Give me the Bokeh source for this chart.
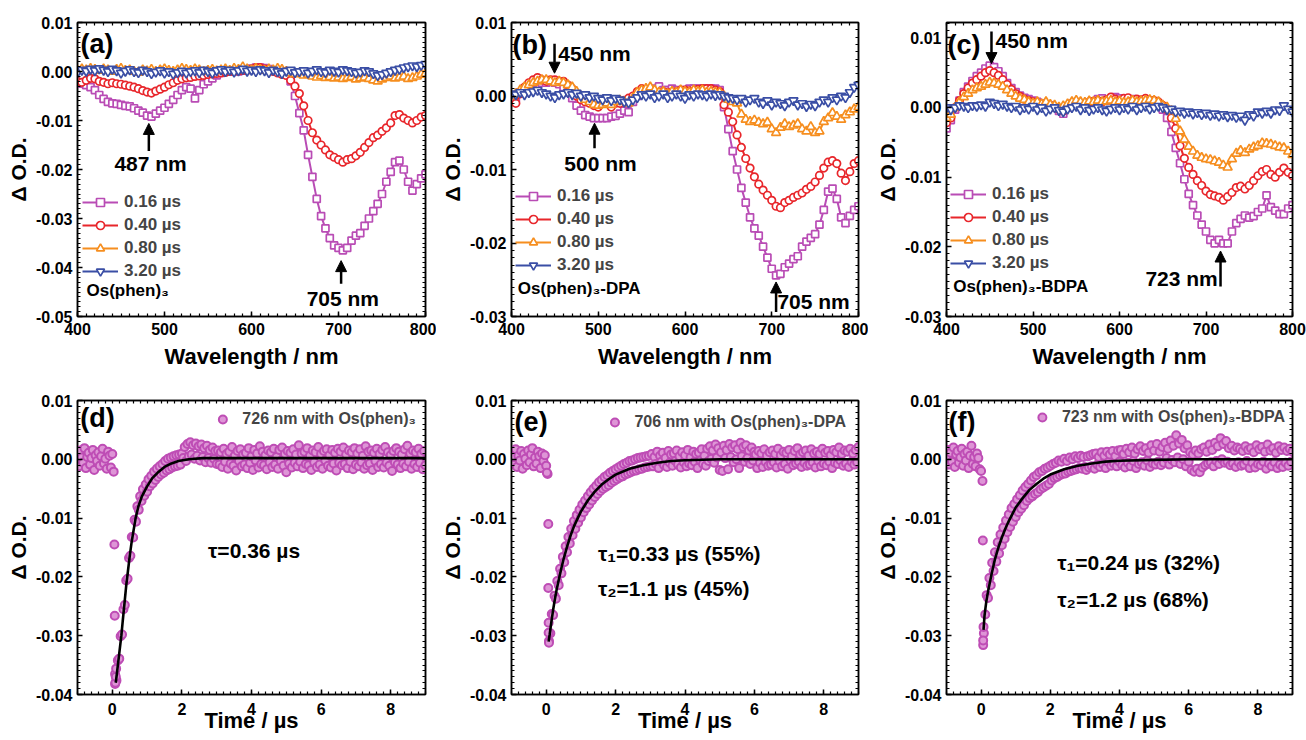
from bokeh.plotting import figure
from bokeh.layouts import column, row
from bokeh.models import (Range1d, LinearAxis, SingleIntervalTicker, FixedTicker, PrintfTickFormatter,
                          Legend, LegendItem, Label, Arrow, NormalHead)
from bokeh.embed import file_html
from bokeh.resources import INLINE

FONT = "Liberation Sans"

# ---------------- data (ΔO.D. in units of 0.001) ----------------
# transient spectra, wavelength 400..800 nm every 5 nm
delay_labels = ["0.16 µs", "0.40 µs", "0.80 µs", "3.20 µs"]

a_016 = [-2.4, -2.5, -2.8, -3.2, -3.8, -4.8, -5.6, -6.2, -6.5, -6.6, -6.8, -7.0, -7.1, -7.5, -8.0, -8.4, -9.0, -9.2, -8.6, -8.0,
         -7.4, -6.6, -5.8, -4.8, -3.8, -3.2, -3.5, -5.5, -3.8, -2.6, -2.0, -1.4, -0.8, -0.3, 0.0, 0.0, 0.2, 0.0, 0.2, 0.4,
         0.6, 0.8, 0.8, 0.7, 0.5, 0.2, 0.0, 0.0,
         -0.2, -2.0, -5.0, -8.5, -12.0, -17.0, -21.5, -26.0, -29.5, -32.0, -34.0, -35.5, -36.0, -36.5, -36.0, -34.5, -33.5,
         -33.0, -31.5, -30.0, -28.5, -27.0, -25.0, -22.5, -20.5, -18.5, -18.2, -20.0, -22.5, -24.3, -23.0, -21.8, -21.0]
a_040 = [-2.0, -2.2, -1.8, -1.4, -1.5, -2.0, -2.2, -2.5, -2.3, -2.5, -2.6, -2.8, -3.0, -3.2, -3.5, -3.9, -4.2, -4.4, -4.0, -3.6,
         -3.2, -2.7, -2.3, -1.8, -1.5, -1.3, -1.2, -1.0, -0.9, -0.8, -0.6, -0.5, -0.4, -0.3, -0.2, 0.0, 0.0, 0.1, 0.2, 0.2,
         0.5, 0.8, 0.8, 0.5, 0.3, 0.0, -0.3, -0.6,
         -0.8, -1.8, -3.0, -4.5, -7.0, -10.0, -12.5, -14.0, -15.0, -16.0, -17.0, -17.5, -18.0, -18.5, -18.0, -17.8, -17.2,
         -16.5, -15.5, -14.5, -13.5, -13.0, -12.2, -11.5, -10.5, -9.0, -8.8, -9.5, -10.0, -10.5, -10.0, -9.3, -9.0]
a_080 = [0.2, 0.5, 0.3, 0.6, 0.4, 0.2, 0.5, 0.3, 0.0, 0.4, 0.6, 0.2, 0.3, 0.0, -0.2, 0.3, 0.1, 0.4, 0.0, 0.3,
         0.5, 0.2, 0.0, 0.3, 0.6, 0.4, 0.2, 0.5, 0.3, 0.0, 0.2, 0.4, 0.1, 0.3, 0.5, 0.2, 0.6, 0.4, 0.9, 0.5,
         0.3, 0.6, 0.4, 0.2, 0.5, 0.3, 0.6, 0.4,
         0.0, -0.3, -0.5, -0.4, -0.8, -0.6, -1.0, -1.2, -0.9, -1.3, -1.1, -1.4, -1.2, -1.5, -1.3, -1.1, -1.6, -1.4, -1.2,
         -1.5, -1.8, -2.0, -1.6, -1.3, -1.0, -1.4, -1.2, -1.0, -1.5, -1.3, -1.0, -0.6, -0.4]
a_320 = [-0.2, 0.3, 0.1, 0.5, 0.2, 0.6, 0.3, 0.0, 0.5, 0.2, -0.3, 0.1, 0.4, 0.0, -0.2, 0.3, 0.0, -0.4, -0.1, 0.2,
         -0.3, 0.0, -0.5, -0.2, 0.1, -0.3, 0.0, 0.2, -0.2, 0.3, 0.0, -0.3, 0.2, 0.4, 0.0, 0.3, -0.1, 0.2, 0.5, 0.1,
         0.3, 0.0, 0.4, 0.2, -0.2, 0.3, 0.0, -0.4,
         0.1, 0.3, -0.2, 0.0, 0.2, -0.3, 0.1, 0.4, 0.0, -0.2, 0.3, 0.1, -0.1, 0.4, 0.2, 0.0, -0.3, -0.1, 0.2, 0.0,
         -0.4, -0.8, -0.6, -0.3, 0.0, 0.3, 0.5, 0.8, 1.0, 1.2, 1.0, 1.3, 1.5]

b_016 = [-0.5, -0.3, 0.5, 1.0, 1.5, 1.8, 2.0, 1.8, 1.8, 2.0, 1.8, 1.6, 1.2, 0.5, -0.3, -1.3, -2.0, -2.6, -2.8, -3.0,
         -3.0, -3.0, -3.0, -2.8, -2.7, -2.4, -2.0, -2.2, -0.8, 0.0, 0.5, 0.6, 0.8, 1.0, 1.3, 0.8, 0.8, 1.0, 0.8, 0.7,
         0.8, 1.0, 1.0, 1.0, 1.0, 1.0, 1.0, 1.0,
         0.8, -1.5, -4.5, -7.5, -10.0, -12.5, -14.5, -16.5, -18.0, -19.0, -20.5, -22.0, -23.5, -24.4, -24.2, -23.3, -22.8,
         -22.2, -21.8, -20.5, -19.8, -19.3, -18.8, -17.5, -15.5, -13.0, -12.6, -14.0, -16.5, -17.3, -16.3, -15.5, -15.0]
b_040 = [-0.8, -1.0, 0.3, 1.2, 1.8, 2.2, 2.5, 2.2, 2.0, 2.2, 2.2, 2.0, 2.0, 1.5, 1.0, 0.0, -0.5, -0.8, -1.0, -1.3,
         -1.5, -1.0, -0.9, -1.5, -1.0, -1.0, -0.6, -0.3, 0.0, 0.6, 1.0, 0.8, 0.6, 0.5, 0.4, 0.6, 0.5, 0.3, 0.6, 0.8,
         0.8, 0.7, 0.6, 0.9, 1.0, 1.0, 1.0, 0.8,
         0.6, -1.2, -2.2, -3.5, -5.3, -7.0, -8.5, -9.8, -11.0, -12.0, -12.8, -13.5, -14.2, -15.0, -15.2, -14.5, -14.2,
         -13.8, -13.5, -13.2, -12.7, -12.3, -11.7, -10.8, -9.8, -9.0, -8.8, -9.2, -10.5, -11.5, -10.3, -9.2, -8.8]
b_080 = [0.0, 0.3, 0.8, 1.2, 1.5, 1.8, 2.0, 2.2, 2.2, 2.0, 1.8, 2.0, 1.8, 1.5, 1.2, 0.6, 0.0, -0.5, -0.8, -1.2,
         -1.3, -1.2, -1.0, -1.2, -0.8, -0.6, -0.8, -1.0, -0.3, 0.5, 0.8, 1.0, 1.2, 0.8, 0.5, 0.6, 0.3, 0.6, 0.5, 0.8,
         0.6, 0.5, 0.8, 0.6, 0.8, 0.5, 0.6, 0.5,
         0.5, 0.0, -0.5, -0.8, -1.0, -2.5, -3.2, -3.5, -3.3, -3.6, -3.8, -3.6, -4.5, -5.0, -4.3, -3.8, -4.2, -4.0, -3.8,
         -4.5, -4.8, -4.2, -5.0, -4.8, -3.5, -3.0, -2.3, -2.8, -3.2, -2.6, -2.2, -1.8, -1.5]
b_320 = [0.3, 0.2, 0.5, 0.2, 0.5, 0.6, 0.8, 0.5, 0.3, 0.0, -0.2, 0.2, 0.3, 0.5, 0.2, 0.4, 0.0, 0.2, -0.2, 0.0,
         -0.3, -0.5, -0.2, -0.6, -0.3, -0.5, -0.8, -0.9, -0.5, -0.2, 0.2, 0.0, 0.3, -0.2, 0.0, 0.3, -0.2, 0.0, 0.3, 0.0,
         -0.3, 0.2, 0.0, 0.3, 0.2, 0.0, 0.3, 0.1,
         0.2, 0.0, -0.2, -0.3, -0.5, -0.3, -0.8, -0.5, -0.3, -0.8, -1.0, -0.6, -1.2, -0.8, -1.0, -1.3, -0.8, -0.6, -1.2,
         -1.0, -1.4, -1.1, -1.3, -0.8, -0.5, -0.8, -0.2, -0.5, 0.0, -0.2, 0.5, 1.2, 1.5]

c_016 = [-3.0, -1.8, -0.3, 1.0, 2.2, 3.0, 3.8, 4.5, 5.0, 5.6, 6.0, 5.8, 5.2, 4.5, 3.5, 2.8, 2.2, 1.7, 1.4, 1.2,
         1.0, 0.8, 0.6, 0.4, 0.3, 0.0, -0.5, -0.9, 0.0, 0.5, 0.6, 0.5, 0.4, 0.6, 0.8, 1.2, 1.3, 1.0, 1.1, 1.5,
         1.3, 0.9, 1.1, 1.2, 1.0, 0.9, 1.1, 1.0,
         0.8, 0.5, -0.3, -1.5, -3.5, -5.8, -8.0, -10.3, -12.4, -14.0, -15.5, -16.8, -17.8, -19.0, -19.5, -19.0, -19.5,
         -19.5, -17.8, -16.6, -16.0, -15.5, -15.8, -15.6, -15.0, -14.5, -12.6, -14.3, -14.8, -15.3, -15.3, -14.5, -14.0]
c_040 = [-2.2, -1.5, 0.0, 1.0, 2.0, 2.8, 3.5, 4.0, 4.5, 5.0, 5.3, 5.0, 4.6, 4.0, 3.3, 2.6, 2.0, 1.6, 1.2, 1.0,
         0.8, 0.6, 0.5, 0.3, 0.2, 0.0, -0.3, -0.5, 0.2, 0.6, 0.8, 0.5, 0.6, 0.8, 0.9, 1.0, 0.8, 1.1, 1.5, 1.2,
         1.0, 1.3, 1.4, 1.0, 1.2, 1.1, 1.3, 1.0,
         1.0, 0.8, 0.3, -0.3, -1.5, -3.0, -5.5, -7.3, -8.6, -9.6, -10.5, -11.2, -12.0, -12.5, -12.7, -12.9, -13.3,
         -12.8, -12.2, -11.5, -11.3, -11.7, -11.2, -10.5, -9.8, -9.2, -8.9, -9.6, -10.0, -9.3, -8.7, -9.3, -9.8]
c_080 = [-1.5, -1.0, 0.0, 0.8, 1.5, 2.0, 2.5, 2.8, 3.0, 3.3, 3.6, 3.5, 3.3, 3.0, 2.5, 2.0, 1.6, 1.3, 1.1, 0.8,
         0.6, 0.8, 0.5, 0.8, 0.4, 0.3, 0.0, 0.2, 0.5, 0.8, 1.0, 0.8, 0.7, 0.9, 0.8, 1.0, 0.8, 0.9, 1.0, 0.8,
         0.9, 0.7, 0.8, 1.0, 0.8, 0.9, 1.0, 1.1,
         1.0, 0.8, 0.3, 0.0, -0.5, -1.6, -3.4, -4.6, -5.6, -6.3, -6.9, -7.2, -7.4, -7.5, -7.7, -7.9, -8.3,
         -8.6, -7.4, -6.6, -6.2, -6.5, -6.0, -5.7, -5.5, -5.1, -5.2, -5.3, -5.5, -5.7, -5.8, -6.3, -6.8]
c_320 = [0.0, -0.3, 0.0, 0.3, 0.2, 0.0, 0.3, 0.2, 0.4, 0.2, 0.8, 0.6, 0.3, 0.5, 0.2, 0.0, 0.2, -0.3, 0.0, -0.2,
         0.2, -0.3, 0.0, -0.5, -0.2, 0.0, -0.4, -0.6, -0.2, 0.0, 0.2, -0.3, 0.0, -0.4, -0.2, 0.0, -0.3, -0.5, -0.2, 0.0,
         -0.3, 0.0, -0.2, 0.2, -0.3, 0.0, 0.2, -0.2,
         0.0, 0.2, 0.0, -0.3, -0.2, -0.6, -0.5, -0.8, -0.6, -0.9, -0.7, -1.0, -0.8, -1.1, -0.9, -1.2, -1.0,
         -1.3, -1.1, -1.4, -1.2, -1.8, -1.0, -1.2, -0.6, -0.8, -0.5, -0.8, -0.3, -0.4, 0.3, -0.2, -0.6]

# kinetic traces, time -1.00 .. 9.00 us every 0.04 us
d_trace = ([0.8, -1.2, 1.5, 0.3, -0.6, 1.9, -1.5, 0.4, 1.1, -0.9, 0.2, 1.6, -1.8, 0.7, -0.3, 1.2, -1.1, 0.5, 1.8, -0.7,
            0.1, -1.6, 1.3, 0.6, -1.4, 0.9, -2.1, -38.2]
           + [-37.6, -34.2, -33.9, -30.1, -29.8, -25.5, -24.8, -20.6, -20.3, -16.8, -16.4, -13.2, -13.3, -10.3, -10.6,
              -8.0, -8.6, -6.3, -7.1, -5.1, -6.2, -4.3, -5.5, -3.4, -4.6, -2.8, -4.1, -2.1, -3.5, -1.6, -3.0, -1.2,
              -2.6, -0.8, -2.3, -0.3, -1.9, 0.1, -1.7, 0.3, -1.4, 0.5, -1.2, 0.7, -1.1, 0.8, -0.9, 1.0]
           + [0.2, 2.1, -0.3, 2.6, 0.5, 2.9, 0.8, 2.4, 0.1, 2.7, 0.6, 2.2, -0.2, 2.5, 0.4, 1.9, -0.5, 2.3, 0.2, 1.6,
              -0.6, 2.0, 0.1, 1.4, -0.8]
           + [1.5, -0.9, 1.2, -1.3, 1.8, -0.4, 0.9, -1.6, 1.3, -0.7, 2.1, -1.1, 0.6, -1.9, 1.4, -0.3, 1.7, -1.2, 0.8, -0.9,
              1.1, -1.5, 1.9, -0.6, 0.5, -1.8, 1.6, -0.2, 1.0, -1.4, 2.2, -0.8, 1.3, -1.0, 0.7, -1.7, 1.5, -0.5, 1.2, -1.3,
              1.8, -0.9, 0.4, -1.6, 1.6, -0.3, 2.0, -1.1, 0.9, -2.2, 1.4, -0.7, 1.1, -1.4, 1.7, -0.6, 0.8, -1.2, 2.4, -0.4,
              1.0, -1.5, 1.3, -0.8, 1.9, -1.0, 0.6, -1.8, 1.5, -0.5, 1.2, -1.3, 2.1, -0.9, 0.9, -1.6, 1.4, -0.2, 1.7, -1.1,
              0.7, -1.4, 1.6, -0.7, 1.1, -1.9, 1.8, -0.6, 1.3, -1.0, 2.0, -0.8, 0.8, -1.5, 1.5, -0.4, 1.2, -1.7, 1.9, -0.9,
              1.0, -1.2, 1.7, -0.5, 0.6, -1.6, 2.2, -1.0, 1.3, -0.7, 1.5, -1.8, 1.1, -0.3, 1.8, -1.3, 0.9, -0.8, 1.6, -1.4,
              2.1, -0.6, 1.2, -1.1, 0.7, -2.0, 1.4, -0.5, 1.9, -0.9, 1.3, -1.5, 0.8, -0.7, 1.7, -1.2, 2.3, -0.4, 1.0, -1.6,
              1.5, -0.8, 1.2, -1.3, 1.8, -0.6, 0.9, -1.7, 1.4, -1.0])
d_onset_t = [0.06, 0.07, 0.08, 0.09, 0.10, 0.11]
d_onset_v = [-14.5, -26.6, -36.5, -38.0, -37.0, -35.6]
d_fit_t = [0.10, 0.15, 0.20, 0.26, 0.30, 0.35, 0.40, 0.45, 0.50, 0.55, 0.60, 0.67, 0.75, 0.85, 1.00, 1.15, 1.30,
           1.50, 1.70, 1.90, 2.20, 2.60, 9.00]
d_fit_v = [-38.0, -35.5, -33.0, -30.0, -27.5, -24.5, -21.5, -19.0, -16.5, -14.3, -12.5, -10.0, -8.0, -6.3, -4.6,
           -3.2, -2.3, -1.3, -0.7, -0.3, 0.0, 0.2, 0.2]

e_trace = ([1.2, -0.8, 0.4, 1.7, -1.3, 0.6, -0.2, 1.4, -1.6, 0.9, 0.1, -1.0, 1.5, -0.5, 0.8, 1.9, -1.2, 0.3, -0.7, 1.3,
            0.5, -1.5, 1.0, -0.3, 0.7, -1.1, -2.5, -30.9]
           + [-29.6, -26.3, -26.5, -23.2, -23.7, -20.7, -21.4, -18.6, -19.4, -16.6, -17.5, -14.8, -15.8, -13.2, -14.3,
              -11.8, -12.9, -10.5, -11.8, -9.5, -10.8, -8.6, -9.9, -7.7, -9.0, -7.0, -8.3, -6.3, -7.7, -5.6, -7.0, -5.0,
              -6.4, -4.5, -5.9, -3.9, -5.4, -3.5, -5.0, -3.0, -4.7, -2.7, -4.4, -2.3, -4.0, -2.0, -3.7, -1.7]
           + [-3.4, -1.4, -3.1, -1.1, -2.9, -0.8, -2.6, -0.6, -2.4, -0.3, -2.2, -0.2, -2.0, 0.0, -1.9, 0.2, -1.7, 0.3,
              -1.6, 0.4, -1.4, 0.5, -1.3, 0.6, -1.2]
           + [0.9, -1.2, 0.4, -0.8, 1.3, -1.5, 0.6, -0.4, 1.1, -1.0, 0.2, -1.3, 1.4, -0.6, 0.8, -1.1, 1.0, -0.3, 1.5, -0.9,
              0.5, -1.4, 1.2, -0.5, 0.7, -1.2, 1.6, -0.7, 0.3, -1.0, 1.3, -0.4, 0.9, -1.5, 1.1, -0.2, 1.7, -0.8, 0.6, -1.1]
           + [1.8, -0.3, 2.2, 0.1, 1.5, -0.6, 2.5, 0.3, 1.9, -1.8, 1.2, -2.0, 2.3, 0.2, 1.6, -1.7, 2.6, 0.4, 2.0, -0.5,
              2.4, 0.0, 1.7, -1.5, 2.8, 0.5, 2.1, -0.4, 2.4, 0.2, 1.5, -0.8, 2.0, -0.2, 1.3]
           + [0.8, -1.5, 1.4, -0.6, 1.0, -1.3, 1.7, -0.4, 0.6, -1.1, 1.2, -0.9, 1.5, -0.5, 0.9, -1.4, 1.8, -0.3, 0.7, -1.2,
              1.3, -0.8, 1.1, -1.6, 1.6, -0.2, 0.5, -1.0, 1.4, -0.7, 1.9, -0.4, 0.8, -1.3, 1.2, -0.6, 1.5, -1.1, 0.6, -0.9,
              1.7, -0.5, 1.0, -1.4, 1.3, -0.3, 0.9, -1.2, 1.8, -0.7, 1.1, -1.0, 1.4, -0.4, 0.7, -1.5, 1.6, -0.6, 1.2, -0.8,
              2.0, -0.2, 0.9, -1.1, 1.5, -0.7, 1.3, -1.3, 1.8, -0.4, 1.0, -0.9, 1.6, -0.5, 2.1])
e_onset_t = [0.02, 0.06, 0.06, 0.07, 0.07, 0.08]
e_onset_v = [-2.3, -11.0, -21.9, -27.8, -29.5, -31.2]
e_fit_t = [0.07, 0.10, 0.15, 0.20, 0.25, 0.30, 0.38, 0.45, 0.50, 0.60, 0.70, 0.80, 0.91, 1.00, 1.20, 1.40, 1.60,
           1.80, 2.00, 2.40, 2.80, 3.20, 3.60, 4.00, 5.00, 9.00]
e_fit_v = [-31.0, -29.8, -27.6, -25.6, -23.8, -22.2, -20.0, -18.2, -17.0, -14.9, -13.0, -11.4, -10.0, -8.9, -7.0,
           -5.5, -4.3, -3.4, -2.6, -1.6, -1.0, -0.6, -0.3, -0.15, 0.0, 0.0]

f_trace = ([0.5, 1.6, -0.9, 1.1, -0.4, 2.0, -1.3, 0.8, 1.4, -0.6, 0.3, 1.8, -1.1, 0.9, -0.2, 1.3, -1.5, 0.6, 2.3, -0.8,
            0.4, -1.2, 1.0, 0.2, -1.7, -2.0, -3.7, -29.6]
           + [-26.4, -23.1, -23.6, -20.2, -21.4, -17.6, -19.0, -15.8, -17.4, -14.1, -16.0, -12.8, -14.6, -11.6, -13.5,
              -10.4, -12.4, -9.4, -11.5, -8.3, -10.6, -7.6, -9.8, -6.8, -9.0, -6.1, -8.4, -5.3, -7.8, -4.7, -7.1, -4.2,
              -6.6, -3.6, -6.3, -3.0, -5.9, -2.7, -5.6, -2.2, -5.1, -2.0, -4.8, -1.6, -4.5, -1.4, -4.2, -1.1]
           + [-3.6, -0.8, -3.2, -0.6, -3.0, -0.2, -2.7, -0.4, -2.5, 0.1, -2.4, -0.3, -2.1, 0.3, -2.0, 0.0, -1.8, 0.5,
              -1.7, 0.2, -1.5, 0.6, -1.6, 0.4, -1.3]
           + [-1.8, 0.5, -1.4, 0.7, -1.2, 0.9, -1.6, 1.0, -0.9, 0.4, -1.3, 1.2, -0.8, 0.6, -1.5, 1.3, -0.5, 0.8, -1.1, 1.4,
              -0.7, 0.5, -1.2, 1.5, -0.4]
           + [1.6, -1.0, 0.9, -1.4, 1.8, -0.6, 1.2, -1.2, 2.0, -0.3, 1.0, -1.5, 1.7, -0.8, 2.2, -0.5, 1.4, -1.1, 1.9, -0.2,
              1.1, -1.3, 2.4, -0.7, 1.5, -0.9, 2.6, -0.4, 1.3, -1.0, 2.1, -0.6, 2.8, 0.2, 1.8, -0.9, 3.2, -0.1, 2.3, -0.5,
              4.1, 0.3, 2.7, -0.8, 3.3, 0.0, 1.9, -1.2, 2.4, -0.4]
           + [1.2, -1.8, 0.8, -2.1, 1.5, -1.6, 1.0, -2.2, 1.7, -1.4, 2.0, -1.0, 1.3, -0.7, 2.5, -0.5, 1.6, -1.2, 2.8, -0.3,
              2.2, -0.8, 3.6, 0.0, 2.6, -0.6, 3.1, -0.4, 1.9, -1.0, 2.3, -0.7, 1.5, -1.3, 2.0, -0.5, 1.8, -1.1, 1.4, -0.9,
              2.2, -0.3, 1.6, -1.5, 1.9, -0.6, 1.2, -1.4, 2.4, -0.8, 1.7, -1.0, 2.1, -0.4, 1.3, -1.6, 2.5, -0.7, 1.5, -1.2,
              1.9, -0.5, 1.1, -1.5, 2.2, -0.9, 1.6, -1.3, 2.0, -0.6, 1.4, -1.1, 1.8, -0.4, 1.3])
f_onset_t = [0.05, 0.06, 0.06, 0.07]
f_onset_v = [-13.8, -31.6, -30.8, -28.5]
f_fit_t = [0.07, 0.10, 0.15, 0.20, 0.30, 0.40, 0.50, 0.60, 0.70, 0.80, 1.00, 1.20, 1.40, 1.60, 1.80, 2.00, 2.40,
           2.80, 3.20, 3.60, 4.00, 5.00, 6.00, 9.00]
f_fit_v = [-29.0, -26.5, -24.2, -22.5, -19.6, -17.0, -15.0, -13.3, -11.8, -10.5, -8.2, -6.6, -5.2, -4.2, -3.3, -2.6,
           -1.7, -1.1, -0.7, -0.4, -0.25, -0.1, 0.0, 0.0]

# ---------------- styling ----------------
SPEC_COLORS = ["#B94CB5", "#E8262B", "#F68E1F", "#3A4EA5"]
SPEC_MARKERS = ["square", "circle", "triangle", "inverted_triangle"]
SPEC_SIZES = [7, 7.5, 9, 9]
K_LINE = "#BE4DB5"
K_FILL = "#DE95D6"


def style_axis(ax, title_size):
    ax.axis_line_color = "black"
    ax.axis_line_width = 1.5
    ax.major_tick_line_color = "black"
    ax.major_tick_line_width = 1.5
    ax.minor_tick_line_color = "black"
    ax.minor_tick_line_width = 1.2
    ax.major_tick_in = 5
    ax.major_tick_out = 0
    ax.minor_tick_in = 3
    ax.minor_tick_out = 0
    ax.major_label_text_font = FONT
    ax.major_label_text_font_style = "bold"
    ax.major_label_text_color = "black"
    ax.major_label_text_font_size = "16px"
    ax.major_label_standoff = 5
    ax.axis_label_text_font = FONT
    ax.axis_label_text_font_style = "bold"
    ax.axis_label_text_font_size = title_size
    ax.axis_label_text_color = "black"


def mirror_axis(positions):
    ax = LinearAxis(ticker=FixedTicker(ticks=[], minor_ticks=positions))
    ax.axis_line_color = "black"
    ax.axis_line_width = 1.5
    ax.minor_tick_line_color = "black"
    ax.minor_tick_line_width = 1.2
    ax.minor_tick_in = 3
    ax.minor_tick_out = 0
    ax.major_tick_in = 0
    ax.major_tick_out = 0
    ax.major_label_standoff = 0
    return ax


def make_fig(w, h, bl, br, bt, bb, xr, yr, xint, xlabel, xlab_standoff, xtitle_standoff):
    p = figure(width=w, height=h, x_range=Range1d(*xr), y_range=Range1d(*yr),
               output_backend="svg", toolbar_location=None,
               min_border_left=bl, min_border_right=br, min_border_top=bt, min_border_bottom=bb,
               x_axis_label=xlabel, y_axis_label="Δ O.D.")
    p.xgrid.visible = False
    p.ygrid.visible = False
    p.outline_line_color = "black"
    p.outline_line_width = 1.5
    p.background_fill_color = "white"
    p.border_fill_color = "white"
    xa = p.xaxis[0]
    ya = p.yaxis[0]
    xa.ticker = SingleIntervalTicker(interval=xint, num_minor_ticks=10)
    ya.ticker = SingleIntervalTicker(interval=0.01, num_minor_ticks=10)
    ya.formatter = PrintfTickFormatter(format="%.2f")
    style_axis(xa, "22px")
    style_axis(ya, "21px")
    xa.major_label_standoff = xlab_standoff
    xa.axis_label_standoff = xtitle_standoff
    ya.axis_label_standoff = 3
    xstep = xint / 10
    nx = int(round((xr[1] - xr[0]) / xstep))
    xpos = [round(xr[0] + xstep * i, 4) for i in range(nx + 1)]
    y0 = int(round(yr[0] * 1000))
    y1 = int(yr[1] * 1000)
    ypos = [k / 1000 for k in range(y0, y1 + 1)]
    p.add_layout(mirror_axis(xpos), "above")
    p.add_layout(mirror_axis(ypos), "right")
    return p


def text(p, x, y, s, size, align="left"):
    p.add_layout(Label(x=x, y=y, text=s, text_font=FONT, text_font_style="bold", text_font_size=size,
                       text_align=align, text_baseline="middle", text_color="black"))


def arrow(p, x, y0, y1):
    p.add_layout(Arrow(end=NormalHead(size=11, fill_color="black", line_color="black", line_width=1),
                       x_start=x, y_start=y0, x_end=x, y_end=y1, line_width=2.5, line_color="black"))


def spectra(p, series, legend_loc):
    items = []
    for vals, lab, col, mk, sz in zip(series, delay_labels, SPEC_COLORS, SPEC_MARKERS, SPEC_SIZES):
        xs = [400 + 5 * i for i in range(len(vals))]
        ys = [v / 1000 for v in vals]
        lr = p.line(xs, ys, line_color=col, line_width=2)
        sr = p.scatter(xs, ys, marker=mk, size=sz, line_color=col, fill_color="white", line_width=1.7)
        items.append(LegendItem(label=lab, renderers=[lr, sr]))
    leg = Legend(items=items, location=legend_loc, padding=0, margin=0, spacing=3,
                 glyph_width=36, glyph_height=20, label_height=20, label_standoff=6,
                 label_text_font=FONT, label_text_font_style="bold", label_text_font_size="17px",
                 border_line_color=None, background_fill_alpha=0)
    p.add_layout(leg)


def kinetics(p, trace, ot, ov, ft, fv, lab, marg):
    ts = [-1 + 0.04 * i for i in range(len(trace))] + ot
    ys = [v / 1000 for v in trace + ov]
    sr = p.scatter(ts, ys, marker="circle", size=8, line_color=K_LINE, fill_color=K_FILL, line_width=2)
    p.line(ft, [v / 1000 for v in fv], line_color="black", line_width=2.6)
    leg = Legend(items=[LegendItem(label=lab, renderers=[sr])], location="top_right", padding=0, margin=marg,
                 glyph_width=20, glyph_height=20, label_height=20, label_standoff=10,
                 label_text_font=FONT, label_text_font_style="bold", label_text_font_size="16px",
                 border_line_color=None, background_fill_alpha=0)
    p.add_layout(leg)


# ---------------- top row: spectra ----------------
TOP_H, BOT_H = 374, 366
pa = make_fig(436, TOP_H, 77, 11, 22, 58, (400, 800), (-0.05, 0.01), 100, "Wavelength / nm", 6, 6)
spectra(pa, [a_016, a_040, a_080, a_320], (5, 35))
text(pa, 403.4, 0.0057, "(a)", "27px")
text(pa, 410.3, -0.0447, "Os(phen)₃", "17px")
arrow(pa, 482, -0.0162, -0.0106)
text(pa, 484, -0.0188, "487 nm", "21px", "center")
arrow(pa, 703, -0.0433, -0.0386)
text(pa, 705, -0.0464, "705 nm", "21px", "center")

pb = make_fig(432, TOP_H, 75, 10, 22, 58, (400, 800), (-0.03, 0.01), 100, "Wavelength / nm", 6, 6)
spectra(pb, [b_016, b_040, b_080, b_320], (4, 41))
text(pb, 401.2, 0.0069, "(b)", "27px")
text(pb, 407.3, -0.0262, "Os(phen)₃-DPA", "17px")
arrow(pb, 449.6, 0.0071, 0.0031)
text(pb, 454, 0.0058, "450 nm", "21px")
arrow(pb, 495.7, -0.0071, -0.0037)
text(pb, 502.6, -0.0092, "500 nm", "21px", "center")
arrow(pb, 705, -0.0294, -0.0253)
text(pb, 706.5, -0.0280, "705 nm", "21px")

pc = make_fig(438, TOP_H, 78, 14, 22, 58, (400, 800), (-0.03, 0.0122), 100, "Wavelength / nm", 6, 6)
spectra(pc, [c_016, c_040, c_080, c_320], (4, 43))
text(pc, 401.2, 0.0089, "(c)", "27px")
text(pc, 407.7, -0.0257, "Os(phen)₃-BDPA", "17px")
arrow(pc, 452, 0.0109, 0.0063)
text(pc, 456.6, 0.0096, "450 nm", "21px")
arrow(pc, 716.8, -0.0257, -0.0206)
text(pc, 713.6, -0.0245, "723 nm", "21px", "right")

# ---------------- bottom row: kinetics ----------------
pd = make_fig(436, BOT_H, 77, 11, 26, 46, (-1, 9), (-0.04, 0.01), 2, "Time / µs", 8, -10)
kinetics(pd, d_trace, d_onset_t, d_onset_v, d_fit_t, d_fit_v, "726 nm with Os(phen)₃", 9)
text(pd, -0.92, 0.0071, "(d)", "27px")
text(pd, 2.75, -0.0155, "τ=0.36 µs", "21px")

pe = make_fig(432, BOT_H, 75, 10, 26, 46, (-1, 9), (-0.04, 0.01), 2, "Time / µs", 8, -10)
kinetics(pe, e_trace, e_onset_t, e_onset_v, e_fit_t, e_fit_v, "706 nm with Os(phen)₃-DPA", 12)
text(pe, -0.91, 0.0064, "(e)", "27px")
text(pe, 1.49, -0.0161, "τ₁=0.33 µs (55%)", "21px")
text(pe, 1.49, -0.0219, "τ₂=1.1 µs (45%)", "21px")

pf = make_fig(438, BOT_H, 78, 14, 26, 46, (-1, 9), (-0.04, 0.01), 2, "Time / µs", 8, -10)
kinetics(pf, f_trace, f_onset_t, f_onset_v, f_fit_t, f_fit_v, "723 nm with Os(phen)₃-BDPA", 7)
text(pf, -0.94, 0.0063, "(f)", "27px")
text(pf, 2.2, -0.0176, "τ₁=0.24 µs (32%)", "21px")
text(pf, 2.2, -0.0238, "τ₂=1.2 µs (68%)", "21px")

layout = column(row(pa, pb, pc), row(pd, pe, pf))
open("out.html", "w").write(file_html(layout, INLINE))
